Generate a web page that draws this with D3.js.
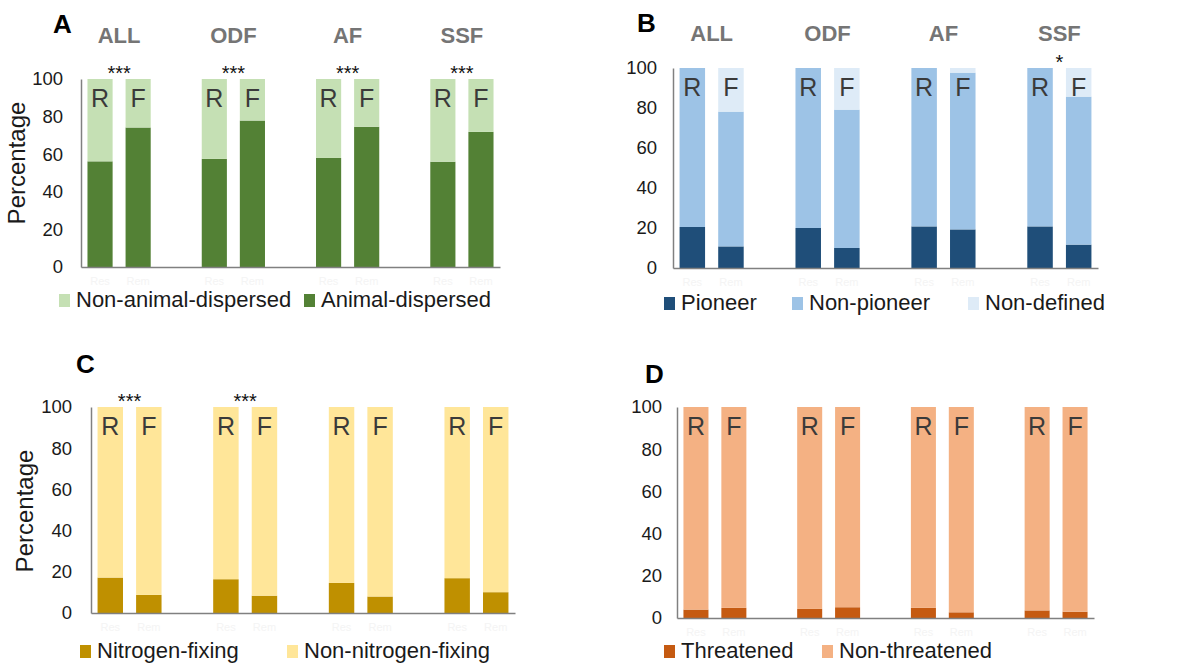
<!DOCTYPE html>
<html>
<head>
<meta charset="utf-8">
<script src="https://cdn.jsdelivr.net/npm/d3@7"></script>
<style>
  body { margin: 0; background: #fff; }
  svg { font-family: "Liberation Sans", Arial, sans-serif; }
</style>
</head>
<body>
<svg id="svg1" width="1184" height="666"></svg>
<script>
// forest groups and site types (R = restoration / F = forest)
var groups = ['ALL', 'ODF', 'AF', 'SSF'];
var sites = ['Res', 'Rem'];
var siteLetters = ['R', 'F'];
var yTicks = [0, 20, 40, 60, 80, 100];

// panel A - dispersal
var animalDispersed    = [56.2, 74.2, 57.5, 77.9, 58.0, 74.6, 56.0, 71.9];
var nonAnimalDispersed = [43.8, 25.8, 42.5, 22.1, 42.0, 25.4, 44.0, 28.1];
var sigA = ['***', '***', '***', '***'];

// panel B - successional group
var pioneer    = [20.5, 10.8, 20.0, 10.0, 20.8, 19.3, 20.8, 11.7];
var nonPioneer = [79.5, 67.4, 80.0, 69.2, 79.2, 78.4, 79.2, 74.0];
var nonDefined = [0, 21.8, 0, 20.8, 0, 2.3, 0, 14.3];
var sigB = ['', '', '', '*'];

// panel C - nitrogen fixation
var nitrogenFixing    = [17.2, 8.8, 16.4, 8.4, 14.6, 8.0, 16.9, 10.1];
var nonNitrogenFixing = [82.8, 91.2, 83.6, 91.6, 85.4, 92.0, 83.1, 89.9];
var sigC = ['***', '***', '', ''];

// panel D - conservation status
var threatened    = [4.0, 4.8, 4.3, 5.1, 4.8, 2.7, 3.6, 3.0];
var nonThreatened = [96.0, 95.2, 95.7, 94.9, 95.2, 97.3, 96.4, 97.0];
var sigD = ['', '', '', ''];

var svg = d3.select('#svg1');

// 11 slots: Res, Rem, gap, Res, Rem, gap ...
var slotLabels = [];
groups.forEach(function(g, gi){
    sites.forEach(function(s){ slotLabels.push(s); });
    if (gi < groups.length - 1) slotLabels.push('');
});

function drawPanel(cfg){
    var g = svg.append('g');

    var x = d3.scaleBand()
        .domain(d3.range(slotLabels.length))
        .range([cfg.x0, cfg.x1])
        .paddingInner(0.34)
        .paddingOuter(0.17);

    var y = d3.scaleLinear().domain([0, 100]).range([cfg.yBottom, cfg.yTop]);

    // one row per bar
    var rows = [];
    groups.forEach(function(grp, gi){
        sites.forEach(function(s, si){
            var i = gi * 2 + si;
            var row = {slot: gi * 3 + si, letter: siteLetters[si]};
            cfg.series.forEach(function(ser){ row[ser.name] = ser.values[i]; });
            rows.push(row);
        });
    });

    var stacked = d3.stack().keys(cfg.series.map(function(s){ return s.name; }))(rows);

    g.selectAll('g.layer')
        .data(stacked)
        .enter()
        .append('g')
        .attr('class', 'layer')
        .attr('fill', function(d, i){ return cfg.series[i].color; })
        .selectAll('rect')
        .data(function(d){ return d; })
        .enter()
        .append('rect')
        .attr('x', function(d){ return x(d.data.slot); })
        .attr('width', x.bandwidth())
        .attr('y', function(d){ return y(d[1]); })
        .attr('height', function(d){ return y(d[0]) - y(d[1]); });

    // R / F letters inside bars
    g.selectAll('text.letter')
        .data(rows)
        .enter()
        .append('text')
        .attr('x', function(d){ return x(d.slot) + x.bandwidth() / 2; })
        .attr('y', cfg.yTop + 28)
        .attr('text-anchor', 'middle')
        .attr('font-size', 25)
        .attr('fill', '#3a3a3a')
        .text(function(d){ return d.letter; });

    // y axis
    var yAxis = g.append('g')
        .attr('transform', 'translate(' + cfg.x0 + ',0)')
        .call(d3.axisLeft(y).tickValues(yTicks).tickSize(0).tickPadding(cfg.tickGap));
    yAxis.selectAll('text').attr('font-size', 18.5).attr('fill', '#1a1a1a')
        .attr('font-family', '"Liberation Sans", Arial, sans-serif');
    yAxis.select('.domain').attr('stroke', '#808080').attr('stroke-width', 1.5);

    // x axis with faint site labels
    var xAxis = g.append('g')
        .attr('transform', 'translate(0,' + cfg.yBottom + ')')
        .call(d3.axisBottom(x).tickSize(0).tickPadding(10)
            .tickFormat(function(i){ return slotLabels[i]; }));
    xAxis.selectAll('text').attr('font-size', 11).attr('fill', '#f4f4f4')
        .attr('font-family', '"Liberation Sans", Arial, sans-serif');
    xAxis.select('.domain').attr('stroke', '#808080').attr('stroke-width', 1.5);

    // significance stars
    g.selectAll('text.sig')
        .data(cfg.sig)
        .enter()
        .append('text')
        .attr('x', function(d, gi){ return (x(gi * 3) + x(gi * 3 + 1) + x.bandwidth()) / 2; })
        .attr('y', cfg.yTop + 1)
        .attr('text-anchor', 'middle')
        .attr('font-size', 20)
        .attr('fill', '#111')
        .text(function(d){ return d; });

    // group headers
    if (cfg.showGroups) {
        g.selectAll('text.grp')
            .data(groups)
            .enter()
            .append('text')
            .attr('x', function(d, gi){ return (x(gi * 3) + x(gi * 3 + 1) + x.bandwidth()) / 2; })
            .attr('y', cfg.groupY)
            .attr('text-anchor', 'middle')
            .attr('font-size', 22)
            .attr('font-weight', 'bold')
            .attr('fill', '#757575')
            .text(function(d){ return d; });
    }

    // panel letter
    g.append('text')
        .attr('x', cfg.letterX)
        .attr('y', cfg.letterY)
        .attr('font-size', 26)
        .attr('font-weight', 'bold')
        .attr('fill', '#000')
        .text(cfg.letter);

    // y title
    if (cfg.titleX) {
        g.append('text')
            .attr('transform', 'translate(' + cfg.titleX + ',' + cfg.titleY + ') rotate(-90)')
            .attr('text-anchor', 'middle')
            .attr('font-size', 24)
            .attr('fill', '#1a1a1a')
            .text('Percentage');
    }

    // legend
    var leg = g.selectAll('g.leg')
        .data(cfg.legend)
        .enter()
        .append('g')
        .attr('transform', function(d, i){ return 'translate(' + cfg.legendX[i] + ',' + cfg.legendY + ')'; });
    leg.append('rect')
        .attr('x', 0).attr('y', -13)
        .attr('width', 11).attr('height', 13)
        .attr('fill', function(d){ return d.color; });
    leg.append('text')
        .attr('x', 17).attr('y', 0)
        .attr('font-size', 22)
        .attr('fill', '#1a1a1a')
        .text(function(d){ return d.name; });
}

var green = {dark: '#538135', light: '#c5e0b4'};
var blue = {dark: '#1f4e79', mid: '#9dc3e6', light: '#deebf7'};
var gold = {dark: '#bf9000', light: '#ffe699'};
var orange = {dark: '#c55a11', light: '#f4b183'};

drawPanel({
    letter: 'A', letterX: 53, letterY: 33,
    x0: 81, x1: 500, yBottom: 267, yTop: 79, tickGap: 18,
    showGroups: true, groupY: 43,
    titleX: 25, titleY: 163,
    sig: sigA,
    series: [
        {name: 'Animal-dispersed', values: animalDispersed, color: green.dark},
        {name: 'Non-animal-dispersed', values: nonAnimalDispersed, color: green.light}
    ],
    legend: [
        {name: 'Non-animal-dispersed', color: green.light},
        {name: 'Animal-dispersed', color: green.dark}
    ],
    legendX: [59, 304], legendY: 307
});

drawPanel({
    letter: 'B', letterX: 637, letterY: 32,
    x0: 673, x1: 1098, yBottom: 268, yTop: 68, tickGap: 16,
    showGroups: true, groupY: 41,
    sig: sigB,
    series: [
        {name: 'Pioneer', values: pioneer, color: blue.dark},
        {name: 'Non-pioneer', values: nonPioneer, color: blue.mid},
        {name: 'Non-defined', values: nonDefined, color: blue.light}
    ],
    legend: [
        {name: 'Pioneer', color: blue.dark},
        {name: 'Non-pioneer', color: blue.mid},
        {name: 'Non-defined', color: blue.light}
    ],
    legendX: [664, 792, 968], legendY: 310
});

drawPanel({
    letter: 'C', letterX: 76, letterY: 373,
    x0: 91, x1: 515, yBottom: 613, yTop: 407, tickGap: 19,
    showGroups: false,
    titleX: 33, titleY: 511,
    sig: sigC,
    series: [
        {name: 'Nitrogen-fixing', values: nitrogenFixing, color: gold.dark},
        {name: 'Non-nitrogen-fixing', values: nonNitrogenFixing, color: gold.light}
    ],
    legend: [
        {name: 'Nitrogen-fixing', color: gold.dark},
        {name: 'Non-nitrogen-fixing', color: gold.light}
    ],
    legendX: [80, 287], legendY: 658
});

drawPanel({
    letter: 'D', letterX: 645, letterY: 383,
    x0: 677, x1: 1094, yBottom: 618, yTop: 407, tickGap: 15,
    showGroups: false,
    sig: sigD,
    series: [
        {name: 'Threatened', values: threatened, color: orange.dark},
        {name: 'Non-threatened', values: nonThreatened, color: orange.light}
    ],
    legend: [
        {name: 'Threatened', color: orange.dark},
        {name: 'Non-threatened', color: orange.light}
    ],
    legendX: [664, 822], legendY: 658
});
</script>
</body>
</html>
